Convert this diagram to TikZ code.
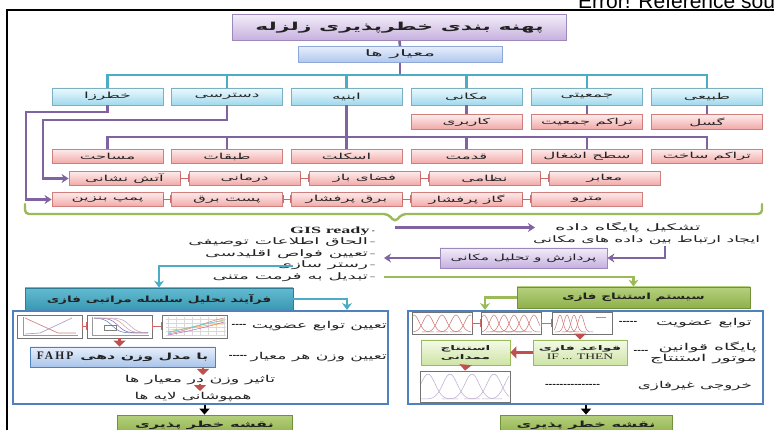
\documentclass[tikz,border=0pt]{standalone}
\usepackage{fontspec}
\usepackage{graphicx}
\setmainfont{Liberation Serif}
\newfontfamily\fa[Script=Arabic]{DejaVu Sans}
\newfontfamily\arialf{Liberation Sans}
\TeXXeTstate=1
\usetikzlibrary{arrows.meta}
\newcommand\fatxt[2][1.7]{\scalebox{#1}[1]{\fa\beginR #2\endR}}
\definecolor{pur}{HTML}{8064A2}
\definecolor{tl}{HTML}{4BACC6}
\definecolor{gr}{HTML}{9BBB59}
\definecolor{rd}{HTML}{C0504D}
\definecolor{bl}{HTML}{4F81BD}
\definecolor{ttlT}{HTML}{F3EDF9}\definecolor{ttlB}{HTML}{C6B0DF}\definecolor{ttlD}{HTML}{9D88BC}
\definecolor{crT}{HTML}{E6EEFB}\definecolor{crB}{HTML}{AFC6EE}\definecolor{crD}{HTML}{8EA9D8}
\definecolor{cyT}{HTML}{EEF9FD}\definecolor{cyB}{HTML}{9FD9EE}\definecolor{cyD}{HTML}{7BAFC2}
\definecolor{pkT}{HTML}{FDECEC}\definecolor{pkB}{HTML}{F2A7A6}\definecolor{pkD}{HTML}{D07F7D}
\definecolor{lgT}{HTML}{F4FAE8}\definecolor{lgB}{HTML}{CFE4A5}
\definecolor{gbT}{HTML}{B5D07E}\definecolor{gbB}{HTML}{8FB14A}\definecolor{gbD}{HTML}{71913A}
\definecolor{tbT}{HTML}{62BBD2}\definecolor{tbB}{HTML}{3A98B2}\definecolor{tbD}{HTML}{2E7D92}
\definecolor{lbT}{HTML}{E8F0FB}\definecolor{lbB}{HTML}{A9C4EA}
\definecolor{txt}{HTML}{222222}
\tikzset{
 every node/.style={inner sep=0pt, text=txt},
 ttlbox/.style={draw=ttlD, top color=ttlT, bottom color=ttlB, line width=0.8pt, minimum width=334pt, minimum height=26pt, font=\fontsize{11}{12}\selectfont},
 critbox/.style={draw=crD, top color=crT, bottom color=crB, line width=0.8pt, minimum width=204pt, minimum height=16pt, font=\fontsize{9}{10}\selectfont},
 cybox/.style={draw=cyD, top color=cyT, bottom color=cyB, line width=0.8pt, minimum width=111pt, minimum height=17pt, font=\fontsize{8.5}{9}\selectfont},
 pkbox/.style={draw=pkD, top color=pkT, bottom color=pkB, line width=0.8pt, minimum width=111pt, minimum height=14.5pt, font=\fontsize{8.3}{9}\selectfont},
 lilbox/.style={draw=ttlD, top color=ttlT, bottom color=ttlB, line width=0.8pt, font=\fontsize{8.5}{9}\selectfont},
 purl/.style={draw=pur, line width=2.6pt},
 purarr/.style={purl, -{Stealth[length=7pt,width=9pt]}},
 tlarr/.style={draw=tl, line width=2.6pt, -{Stealth[length=7pt,width=10pt]}},
 grarr/.style={draw=gr, line width=2.6pt, -{Stealth[length=7pt,width=10pt]}},
 tlline/.style={draw=tl, line width=2.6pt},
 rconn/.style={draw=rd!85, line width=0.9pt, arrows={Bar[width=8pt]-Bar[width=8pt]}},
 rarr/.style={draw=rd, line width=2.6pt, -{Triangle[length=6pt,width=12pt]}},
 karr/.style={draw=black, line width=2pt, -{Triangle[length=6pt,width=10pt]}},
 lst/.style={font=\fontsize{9}{10}\selectfont, anchor=east},
 pnl/.style={font=\fontsize{9.5}{11}\selectfont},
 dsh/.style={font=\bfseries\fontsize{11}{11}\selectfont, text=black},
 chart/.style={draw=black!55, fill=white, line width=0.7pt},
 panel/.style={draw=bl, line width=1.8pt},
 grbox/.style={draw=gbD, top color=gbT, bottom color=gbB, line width=0.8pt, font=\bfseries\fontsize{8.5}{9}\selectfont},
 tlbox/.style={draw=tbD, top color=tbT, bottom color=tbB, line width=0.8pt, font=\bfseries\fontsize{8.5}{9}\selectfont},
 lgbox/.style={draw=gr, top color=lgT, bottom color=lgB, line width=0.8pt, align=center, font=\fontsize{6.5}{9}\selectfont},
 lbbox/.style={draw=bl, top color=lbT, bottom color=lbB, line width=0.8pt, font=\fontsize{8.5}{9}\selectfont},
 bellR/.style={draw=rd!80, line width=0.5pt},
 bellG/.style={draw=pur!55, line width=0.5pt},
}
\begin{document}
\begin{tikzpicture}[x=1pt,y=-1pt]
\useasboundingbox (0,0) rectangle (774,430);
\fill[white] (0,0) rectangle (774,430);
% page remnants
\node[anchor=base west, font=\arialf\fontsize{21}{21}\selectfont, text=black] (err) at (578,8.5) {Error! Reference source not found.};
\draw[line width=1.5pt] (774,10) -- (7,10) -- (7,430);

% title and criteria
\node[ttlbox] (ttl) at (399.5,27.5) {\fatxt[2]{\bfseries پهنه بندی خطرپذیری زلزله}};
\node[critbox] (crit) at (400,54.5) {\fatxt[2.4]{معیار ها}};
\coordinate (barY) at (0,75);

% category boxes
\node[cybox] (b1) at (107.5,96.5) {\fatxt[2]{خطرزا}};
\node[cybox] (b2) at (227,96.5) {\fatxt[2]{دسترسی}};
\node[cybox] (b3) at (346.5,96.5) {\fatxt[2]{ابنیه}};
\node[cybox] (b4) at (466.5,96.5) {\fatxt[2]{مکانی}};
\node[cybox] (b5) at (587,96.5) {\fatxt[2]{جمعیتی}};
\node[cybox] (b6) at (707,96.5) {\fatxt[2]{طبیعی}};

\draw[purl] (ttl.south) -- (crit.north);
\draw[purl] (crit.south) -- (crit.south |- barY);
\draw[tlline] (b1.north) -- (b1.north |- barY) -- (b6.north |- barY) -- (b6.north);
\foreach \b in {b2,b3,b4,b5} \draw[tlline] (\b.north) -- (\b.north |- barY);

% red row 1
\node[pkbox] (r1a) at (466.5,122) {\fatxt[2]{کاربری}};
\node[pkbox] (r1b) at (587,122) {\fatxt[2]{تراکم جمعیت}};
\node[pkbox] (r1c) at (707,122) {\fatxt[2]{گسل}};
\draw[purl] (b4.south) -- (r1a.north);
\draw[purl] (b5.south) -- (r1b.north);
\draw[purl] (b6.south) -- (r1c.north);

% red row 2
\coordinate (bar2) at (0,137);
\node[pkbox] (r21) at (107.5,156.5) {\fatxt[2]{مساحت}};
\node[pkbox] (r22) at (227,156.5) {\fatxt[2]{طبقات}};
\node[pkbox] (r23) at (346.5,156.5) {\fatxt[2]{اسکلت}};
\node[pkbox] (r24) at (466.5,156.5) {\fatxt[2]{قدمت}};
\node[pkbox] (r25) at (587,156.5) {\fatxt[2]{سطح اشغال}};
\node[pkbox] (r26) at (707,156.5) {\fatxt[2]{تراکم ساخت}};
\draw[purl] (b3.south) -- (r23.north);
\draw[purl] (r21.north) -- (r21.north |- bar2) -- (r26.north |- bar2) -- (r26.north);
\foreach \b in {r22,r24,r25} \draw[purl] (\b.north) -- (\b.north |- bar2);

% red row 3
\node[pkbox] (r31) at (124.5,178.5) {\fatxt[2]{آتش نشانی}};
\node[pkbox] (r32) at (244.5,178.5) {\fatxt[2]{درمانی}};
\node[pkbox] (r33) at (364.5,178.5) {\fatxt[2]{فضای باز}};
\node[pkbox] (r34) at (484.5,178.5) {\fatxt[2]{نظامی}};
\node[pkbox] (r35) at (604.5,178.5) {\fatxt[2]{معابر}};
\draw[rconn] (r31.east) -- (r32.west);
\draw[rconn] (r32.east) -- (r33.west);
\draw[rconn] (r33.east) -- (r34.west);
\draw[rconn] (r34.east) -- (r35.west);

% red row 4
\node[pkbox] (r41) at (107.5,199.5) {\fatxt[2]{پمپ بنزین}};
\node[pkbox] (r42) at (227,199.5) {\fatxt[2]{پست برق}};
\node[pkbox] (r43) at (346.5,199.5) {\fatxt[2]{برق پرفشار}};
\node[pkbox] (r44) at (466.5,199.5) {\fatxt[2]{گاز پرفشار}};
\node[pkbox] (r45) at (587,199.5) {\fatxt[2]{مترو}};
\draw[rconn] (r41.east) -- (r42.west);
\draw[rconn] (r42.east) -- (r43.west);
\draw[rconn] (r43.east) -- (r44.west);
\draw[rconn] (r44.east) -- (r45.west);

% routed purple arrows
\coordinate (k1) at (43,120);
\coordinate (k2) at (26,112);
\draw[purarr] (b2.south) |- (k1) |- (r31.west);
\draw[purarr] (b1.south) |- (k2) |- (r41.west);

% green brace
\draw[draw=gr, line width=2.4pt, rounded corners=4pt, line cap=round]
  (25,204) -- (25,214) -- (388,214) -- (395,222) -- (402,214) -- (762,214) -- (762,204);

% database texts
\node[anchor=west, font=\fontsize{9}{10}\selectfont] (t1) at (555,227.5) {\fatxt[2.2]{تشکیل پایگاه داده}};
\node[anchor=west, font=\fontsize{9}{10}\selectfont] (t2) at (533,240.5) {\fatxt[1.9]{ایجاد ارتباط بین داده های مکانی}};
\coordinate (pA) at (395,227.5);
\draw[purarr, shorten >=20pt] (pA) -- (t1.west);
\node[lilbox, minimum width=167pt, minimum height=20pt] (proc) at (523.5,258) {\fatxt[1.8]{پردازش و تحلیل مکانی}};
\coordinate (pB) at (665,246);
\draw[purarr] (pB) |- (proc.east);

% list
\node[lst] (L1) at (375,231) {\scalebox{1.9}[1]{\bfseries\fontsize{9.5}{10}\selectfont GIS ready} -};
\node[lst] (L2) at (375,242.5) {\fatxt[2.05]{الحاق اطلاعات توصیفی} –};
\node[lst] (L3) at (375,254) {\fatxt[2.05]{تعیین فواص اقلیدسی} –};
\node[lst] (L4) at (375,265.5) {\fatxt[2.05]{رستر سازی} –};
\node[lst] (L5) at (375,277) {\fatxt[2.05]{تبدیل به فرمت متنی} –};
\coordinate (pC) at (384,258);
\draw[purarr] (proc.west) -- (pC);

% headers
\node[tlbox, minimum width=268pt, minimum height=22pt] (hL) at (159,299) {\fatxt[1.6]{فرآیند تحلیل سلسله مراتبی فازی}};
\node[grbox, minimum width=233pt, minimum height=21pt] (hR) at (633.5,297.5) {\fatxt[1.6]{سیستم استنتاج فازی}};
\coordinate (tB) at (293,266);
\coordinate (gB) at (384,277);
\draw[tlarr] (tB) -| (hL.north);
\draw[grarr] (gB) -| (hR.north);

% panels
\node[panel, minimum width=375pt, minimum height=93pt] (pL) at (200.5,357.5) {};
\node[panel, minimum width=355pt, minimum height=93pt] (pR) at (585.5,357.5) {};
\coordinate (tA) at (347,310);
\coordinate (gA) at (485,310);
\draw[tlarr] (hL.east) -| (tA);
\draw[grarr] (hR.west) -| (gA);

% ---- left panel
\node[chart, minimum width=65pt, minimum height=23pt] (lc1) at (49.5,326.5) {};
\node[chart, minimum width=65pt, minimum height=23pt] (lc2) at (119.5,326.5) {};
\node[chart, minimum width=65pt, minimum height=23pt] (lc3) at (195,326.5) {};
\draw[rconn] (lc1.east) -- (lc2.west);
\draw[rconn] (lc2.east) -- (lc3.west);
% chart 1
\draw[black!40, line width=0.4pt] (23,317) -- (23,335) -- (78,335);
\draw[rd!70, line width=0.7pt] (25,318) -- (58,333) -- (76,333);
\draw[pur!60, line width=0.7pt] (25,334) -- (40,333) -- (72,318);
% chart 2
\draw[black!40, line width=0.4pt] (92,317) -- (92,335) -- (149,335);
\foreach \c/\cc in {112/bl, 118/pur, 124/rd!60, 130/pur!60}
  \draw[\cc, line width=0.5pt] plot[domain=94:148, samples=30, smooth] (\x,{318+15/(1+exp(-(\x-\c)/4))});
\draw[black!50, line width=0.3pt] (104,325) rectangle (116,330);
% chart 3
\foreach \gx in {168,176,...,224} \draw[black!15, line width=0.3pt] (\gx,317) -- (\gx,336);
\foreach \gy in {319,323,...,335} \draw[black!15, line width=0.3pt] (166,\gy) -- (226,\gy);
\draw[rd!70, line width=0.5pt] (168,334) .. controls (190,330) and (205,322) .. (224,318);
\draw[gr, line width=0.5pt] (168,332) .. controls (190,328) and (205,324) .. (224,320);
\draw[violet!60, line width=0.5pt] (168,335) .. controls (195,330) and (210,326) .. (224,322);
\draw[orange!70, line width=0.5pt] (168,330) .. controls (192,329) and (208,324) .. (224,324);
\draw[cyan!60, line width=0.5pt] (168,333) .. controls (195,326) and (210,322) .. (224,321);

\node[dsh] (dl1) at (239,326) {-{}-{}-{}-};
\node[lst, pnl] (tl1) at (387,326) {\fatxt[1.8]{تعیین توابع عضویت}};
\node[lbbox, minimum width=185pt, minimum height=20pt] (fahp) at (122.5,357) {{\bfseries\fontsize{11.5}{12}\selectfont\addfontfeature{LetterSpace=18}FAHP}\hspace{7pt}\fatxt[1.85]{\bfseries با مدل وزن دهی}};
\node[dsh] (dl2) at (238,357) {-{}-{}-{}-{}-};
\node[lst, pnl] (tl2) at (387,357) {\fatxt[1.8]{تعیین وزن هر معیار}};
\draw[rarr] (lc2.south) -- (lc2.south |- fahp.north);
\node[pnl] (tw) at (200,380) {\fatxt[1.85]{تاثیر وزن در معیار ها}};
\node[pnl] (ov) at (193,397.5) {\fatxt[1.75]{همپوشانی لایه ها}};
\coordinate (fa1) at (203,375);
\draw[rarr] (fahp.south -| fa1) -- (fa1);
\coordinate (fa2a) at (200,384);
\coordinate (fa2b) at (200,391);
\draw[rarr] (fa2a) -- (fa2b);

% ---- right panel
\node[chart, minimum width=60pt, minimum height=22pt] (rc1) at (442,323) {};
\node[chart, minimum width=60pt, minimum height=22pt] (rc2) at (511,323) {};
\node[chart, minimum width=60pt, minimum height=22pt] (rc3) at (582.5,323) {};
\draw[rconn] (rc1.east) -- (rc2.west);
\draw[rconn] (rc2.east) -- (rc3.west);
\begin{scope}
\clip (413,313) rectangle (471,333);
\foreach \c in {414,428,442,456,470} {
  \pgfmathsetmacro\lo{\c-20}\pgfmathsetmacro\hi{\c+20}
  \draw[bellR] plot[domain=\lo:\hi, samples=30, smooth] (\x,{332-17*exp(-((\x-\c)/7)*((\x-\c)/7))});
}
\end{scope}
\begin{scope}
\clip (482,313) rectangle (540,333);
\foreach \c in {484,494,504,514,524,534} {
  \pgfmathsetmacro\lo{\c-18}\pgfmathsetmacro\hi{\c+18}
  \draw[bellR] plot[domain=\lo:\hi, samples=30, smooth] (\x,{332-17*exp(-((\x-\c)/6)*((\x-\c)/6))});
}
\end{scope}
\begin{scope}
\clip (554,313) rectangle (611,333);
\foreach \c in {560,567,574,581} {
  \pgfmathsetmacro\lo{\c-12}\pgfmathsetmacro\hi{\c+12}
  \draw[bellR] plot[domain=\lo:\hi, samples=30, smooth] (\x,{332-17*exp(-((\x-\c)/4)*((\x-\c)/4))});
}
\draw[black!40, line width=0.3pt] (596,317) -- (606,317);
\end{scope}
\node[dsh] (dr1) at (628,323) {-{}-{}-{}-{}-};
\node[lst, pnl] (tr1) at (752,323) {\fatxt[1.85]{توابع عضویت}};

\node[lgbox, minimum width=94pt, minimum height=25pt] (rules) at (580,352.5) {\fatxt[2.2]{\bfseries قواعد فازی}\\{\fontsize{8.5}{9}\selectfont\scalebox{1.6}[1]{IF ... THEN}}};
\node[lgbox, minimum width=89pt, minimum height=25pt] (mam) at (465.5,352.5) {\fatxt[2.1]{\bfseries استنتاج}\\\fatxt[2.1]{\bfseries ممدانی}};
\draw[rarr] (rc3.south -| rules.north) -- (rules.north);
\draw[rarr] (rules.west) -- (mam.east);
\node[dsh] (dr2) at (641,352) {-{}-{}-{}-};
\node[lst, pnl, align=right, font=\fontsize{9.5}{10.5}\selectfont] (tr2) at (757,353) {\fatxt[2]{پایگاه قوانین}\\\fatxt[2]{موتور استنتاج}};

\node[chart, minimum width=90pt, minimum height=31pt] (oc) at (465,386.5) {};
\draw[rarr] (mam.south) -- (oc.north);
\begin{scope}
\clip (421,372) rectangle (509,401);
\foreach \c in {428,450,472,494,512} {
  \pgfmathsetmacro\lo{\c-30}\pgfmathsetmacro\hi{\c+30}
  \draw[bellG] plot[domain=\lo:\hi, samples=30, smooth] (\x,{399-25*exp(-((\x-\c)/10)*((\x-\c)/10))});
}
\end{scope}
\node[dsh] (dr3) at (572.5,386) {-{}-{}-{}-{}-{}-{}-{}-{}-{}-{}-{}-{}-{}-{}-};
\node[lst, pnl] (tr3) at (752,386) {\fatxt[1.75]{خروجی غیرفازی}};

% result boxes
\node[grbox, minimum width=175pt, minimum height=20pt] (mapL) at (204.5,425) {\fatxt[1.9]{نقشه خطر پذیری}};
\node[grbox, minimum width=172pt, minimum height=20pt] (mapR) at (586,425) {\fatxt[1.9]{نقشه خطر پذیری}};
\draw[karr] (pL.south -| mapL.north) -- (mapL.north);
\draw[karr] (pR.south -| mapR.north) -- (mapR.north);
\end{tikzpicture}
\end{document}
